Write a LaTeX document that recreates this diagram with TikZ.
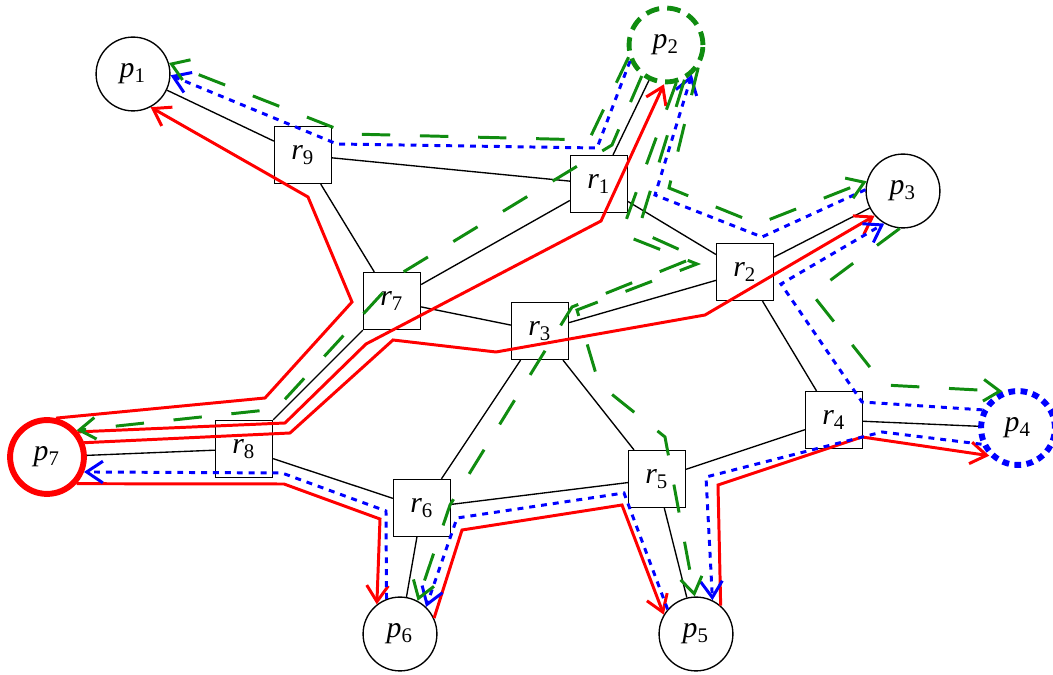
\documentclass[tikz,border=0pt]{standalone}
\usepackage{fontspec}
\setmainfont{Liberation Serif}
\usetikzlibrary{arrows.meta}
\definecolor{pathred}{RGB}{255,0,0}
\definecolor{pathgreen}{RGB}{16,140,16}
\definecolor{pathblue}{RGB}{0,0,255}
\newcommand{\nm}[2]{\textit{#1}\textsubscript{#2}}

\begin{document}
\begin{tikzpicture}[
    x=0.013cm, y=-0.013cm,
    every node/.style={font=\fontsize{11}{13}\selectfont},
    host/.style={circle, draw, line width=0.5pt, minimum size=0.96cm, inner sep=0pt},
    router/.style={rectangle, draw, line width=0.5pt, minimum size=0.74cm, inner sep=0pt},
    link/.style={line width=0.5pt},
    route/.style={line width=1.1pt, -{Straight Barb[length=6pt,width=8pt]}},
    redroute/.style={route, pathred},
    blueroute/.style={route, pathblue, dash pattern=on 2.2pt off 2.2pt},
    greenroute/.style={route, pathgreen, dash pattern=on 10.5pt off 11pt}
  ]
  \useasboundingbox (0,0) rectangle (1053,675);
  % 主机
  \node[host] (p1) at (133,74) {\nm{p}{1}};
  \node[host, draw=pathgreen, line width=1.8pt, dash pattern=on 5pt off 3pt] (p2) at (666,45) {\nm{p}{2}};
  \node[host] (p3) at (903,191) {\nm{p}{3}};
  \node[host, draw=pathblue, line width=2.2pt, dash pattern=on 2.5pt off 2pt] (p4) at (1018,428) {\nm{p}{4}};
  \node[host] (p5) at (696,634) {\nm{p}{5}};
  \node[host] (p6) at (400,634) {\nm{p}{6}};
  \node[host, draw=pathred, line width=2.2pt] (p7) at (47,457) {\nm{p}{7}};
  % 路由器
  \node[router] (r1) at (599,184) {\nm{r}{1}};
  \node[router] (r2) at (745,272) {\nm{r}{2}};
  \node[router] (r3) at (540,331) {\nm{r}{3}};
  \node[router] (r4) at (834,420) {\nm{r}{4}};
  \node[router] (r5) at (657,479) {\nm{r}{5}};
  \node[router] (r6) at (422,508) {\nm{r}{6}};
  \node[router] (r7) at (392,301) {\nm{r}{7}};
  \node[router] (r8) at (244,449) {\nm{r}{8}};
  \node[router] (r9) at (303,155) {\nm{r}{9}};
  % 链路
  \foreach \a/\b in {p1/r9, r9/r1, r9/r7, r1/p2, r1/r7, r1/r2, r2/p3, r2/r3,
                     r2/r4, r7/r3, r7/r8, r8/p7, r8/r6, r3/r6, r3/r5, r6/p6,
                     r6/r5, r5/p5, r5/r4, r4/p4}
    \draw[link] (\a) -- (\b);
  % 红色路径（从 p7 出发）
  \draw[redroute] (p7.77) -- (265,398) -- (352,302) -- (308,197) -- (p1.-62);
  \draw[redroute] (p7.39) -- (285,423) -- (366,344) -- (601,221) -- (p2.-93);
  \draw[redroute] (p7.21) -- (290,433) -- (393,340) -- (496,352) -- (705,315) -- (p3.-139);
  \draw[redroute] (p7.-42) -- (284,484) -- (380,519) -- (p6.128);
  \draw[redroute] (p6.25) -- (462,530) -- (622,505) -- (p5.149);
  \draw[redroute] (p5.49) -- (718,485) -- (862,437) -- (p4.-136);
  % 蓝色路径（从 p4 出发）
  \draw[blueroute] (p4.153) -- (862,402) -- (781,284) -- (p3.-120);
  \draw[blueroute] (p3.178) -- (762,237) -- (655,195) -- (p2.-49);
  \draw[blueroute] (p2.-156) -- (597,148) -- (337,144) -- (p1.-2);
  \draw[blueroute] (p4.-156) -- (882,432) -- (706,477) -- (p5.64);
  \draw[blueroute] (p5.139) -- (624,493) -- (457,518) -- (p6.46);
  \draw[blueroute] (p6.111) -- (386,511) -- (282,473) -- (p7.-22);
  % 绿色路径（从 p2 出发）
  \draw[greenroute] (p2.-162) -- (589,140) -- (350,134) -- (p1.17);
  \draw[greenroute] (p2.-128) -- (612,145) -- (400,274) -- (276,409) -- (p7.42);
  \draw[greenroute] (p2.-35) -- (669,188) -- (758,224) -- (p3.165);
  \draw[greenroute] (p3.-95) -- (812,294) -- (884,385) -- (p4.113);
  \draw[greenroute] (p2.-75) -- (621,234) -- (697,264) -- (577,310) -- (599,384) -- (665,437) -- (p5.92);
  \draw[greenroute] (p2.-62) -- (638,231) -- (696,257) -- (572,307) -- (450,505) -- (p6.62);
\end{tikzpicture}
\end{document}
